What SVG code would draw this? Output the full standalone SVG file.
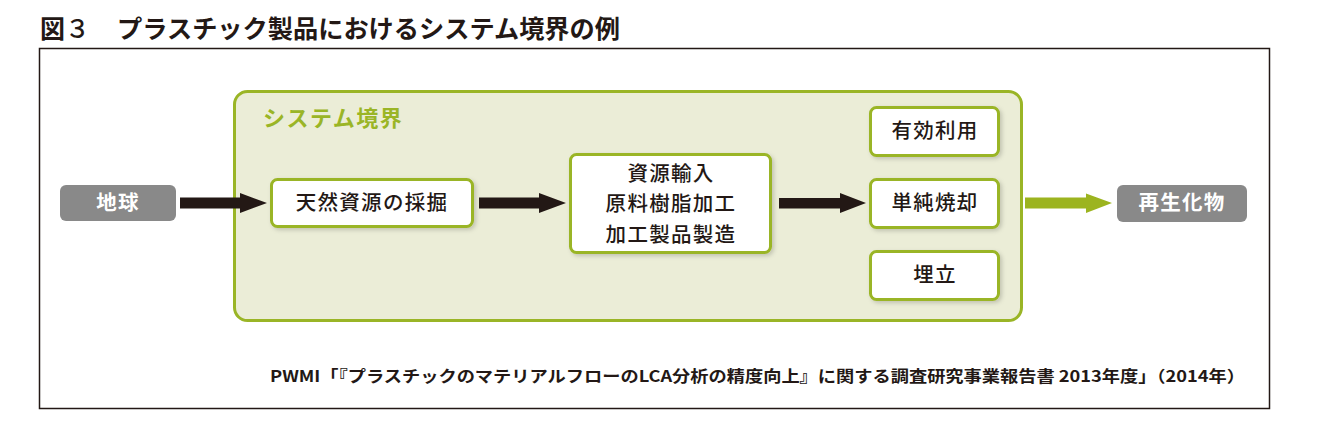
<svg xmlns="http://www.w3.org/2000/svg" width="1322" height="447" viewBox="0 0 1322 447">
<style>
  .t { font-family: "Noto Sans CJK JP", "Noto Sans", sans-serif; fill: #231815; }
  .box { fill: #ffffff; stroke: #9ab526; stroke-width: 3; filter: url(#sh); }
  .gray { fill: #898989; }
  .wt { font-family: "Noto Sans CJK JP", "Noto Sans", sans-serif; fill: #ffffff; font-weight: 700; font-size: 20.5px; letter-spacing: 1.2px; }
  .bt { font-family: "Noto Sans CJK JP", "Noto Sans", sans-serif; fill: #231815; font-weight: 500; font-size: 20.5px; letter-spacing: 1.3px; }
  .arrow { fill: #231815; }
  .garrow { fill: #9cb41f; }
</style>
<defs>
  <filter id="sh" x="-20%" y="-20%" width="140%" height="150%">
    <feDropShadow dx="2" dy="2" stdDeviation="2" flood-color="#000000" flood-opacity="0.18"/>
  </filter>
</defs>
<rect width="1322" height="447" fill="#ffffff"/>
<text class="t" x="40" y="38" font-size="25" font-weight="700">図<tspan font-weight="500">３</tspan><tspan x="117" textLength="503" lengthAdjust="spacingAndGlyphs">プラスチック製品におけるシステム境界の例</tspan></text>
<rect x="39.5" y="48.5" width="1230" height="360" fill="none" stroke="#231815" stroke-width="1.5"/>

<g id="boundary">
  <rect x="234.5" y="91.5" width="787" height="229" rx="13" fill="#ebedd7" stroke="#9ab526" stroke-width="3"/>
  <text x="263" y="126" font-family="Noto Sans CJK JP, Noto Sans, sans-serif" font-size="22" font-weight="700" fill="#9ab526" letter-spacing="1.5">システム境界</text>
</g>

<g id="connectors">
  <polygon class="arrow" points="180,197.5 240,197.5 240,193 267,203 240,213 240,208.5 180,208.5"/>
  <polygon class="arrow" points="479,197.5 539,197.5 539,193 566,203 539,213 539,208.5 479,208.5"/>
  <polygon class="arrow" points="779,198 840,198 840,193 866,203 840,213 840,208.5 779,208.5"/>
  <polygon class="garrow" points="1025,197.5 1086,197.5 1086,193.5 1112,203 1086,213 1086,208.5 1025,208.5"/>
</g>

<g id="earth">
  <rect class="gray" x="60" y="185" width="116" height="36" rx="6"/>
  <text class="wt" x="118" y="210" text-anchor="middle">地球</text>
</g>

<g id="extraction">
  <rect class="box" x="271.5" y="179.5" width="201" height="47" rx="6"/>
  <text class="bt" x="372" y="210" text-anchor="middle">天然資源の採掘</text>
</g>

<g id="manufacturing">
  <rect class="box" x="570.5" y="154.5" width="200" height="98" rx="6"/>
  <text class="bt" x="671" y="181" text-anchor="middle">資源輸入</text>
  <text class="bt" x="671" y="211" text-anchor="middle">原料樹脂加工</text>
  <text class="bt" x="671" y="242" text-anchor="middle">加工製品製造</text>
</g>

<g id="effective-use">
  <rect class="box" x="870.5" y="107.5" width="128" height="48" rx="6"/>
  <text class="bt" x="935" y="138" text-anchor="middle">有効利用</text>
</g>

<g id="incineration">
  <rect class="box" x="870.5" y="179.5" width="128" height="48" rx="6"/>
  <text class="bt" x="935" y="210" text-anchor="middle">単純焼却</text>
</g>

<g id="landfill">
  <rect class="box" x="870.5" y="251.5" width="128" height="48" rx="6"/>
  <text class="bt" x="935" y="282" text-anchor="middle">埋立</text>
</g>

<g id="recycled">
  <rect class="gray" x="1117" y="185" width="130" height="37" rx="6"/>
  <text class="wt" x="1182" y="210" text-anchor="middle">再生化物</text>
</g>

<text class="t" x="270" y="382" font-size="16" font-weight="700" textLength="975" lengthAdjust="spacingAndGlyphs">PWMI「『プラスチックのマテリアルフローのLCA分析の精度向上』に関する調査研究事業報告書 2013年度」（2014年）</text>
</svg>
